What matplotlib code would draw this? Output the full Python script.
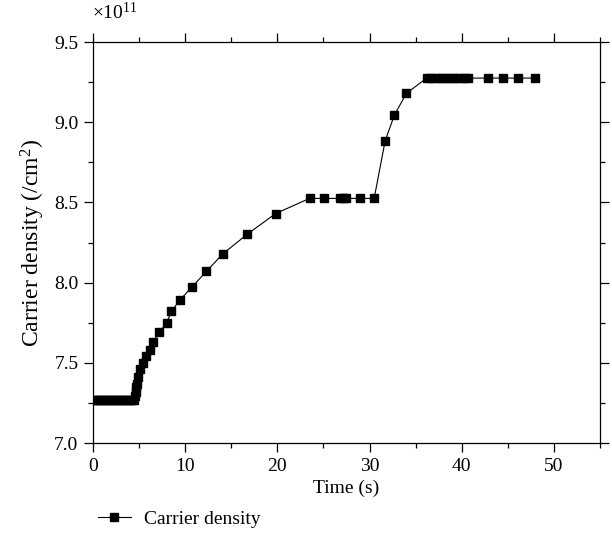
import matplotlib
matplotlib.use("Agg")
import matplotlib.pyplot as plt
from matplotlib.ticker import MultipleLocator

plt.rcParams['font.family'] = ['Liberation Serif', 'DejaVu Serif']
plt.rcParams['mathtext.fontset'] = 'custom'
plt.rcParams['mathtext.rm'] = 'Liberation Serif'
plt.rcParams['mathtext.it'] = 'Liberation Serif:italic'

time_s = [0.0, 0.25, 0.5, 0.75, 1.0, 1.25, 1.5, 1.75, 2.0, 2.25, 2.5, 2.75, 3.0,
          3.25, 3.5, 3.75, 4.0, 4.25, 4.5, 4.6, 4.65, 4.7, 4.75, 4.9, 5.1, 5.46,
          5.8, 6.2, 6.5, 7.2, 8.0, 8.5, 9.4, 10.7, 12.3, 14.1, 16.7, 19.8, 23.5,
          25.1, 26.8, 27.1, 27.4, 29.0, 30.5, 31.7, 32.7, 34.0, 36.2, 36.7, 37.2,
          37.7, 38.2, 38.7, 39.2, 39.7, 40.2, 40.7, 42.8, 44.5, 46.1, 47.9]
density = [7.27, 7.27, 7.27, 7.27, 7.27, 7.27, 7.27, 7.27, 7.27, 7.27, 7.27, 7.27,
           7.27, 7.27, 7.27, 7.27, 7.27, 7.27, 7.27, 7.29, 7.32, 7.35, 7.37, 7.41,
           7.46, 7.50, 7.54, 7.58, 7.63, 7.69, 7.75, 7.82, 7.89, 7.97, 8.07, 8.18,
           8.30, 8.43, 8.525, 8.525, 8.525, 8.525, 8.525, 8.525, 8.525, 8.885, 9.045,
           9.18, 9.275, 9.275, 9.275, 9.275, 9.275, 9.275, 9.275, 9.275, 9.275,
           9.275, 9.275, 9.275, 9.275, 9.275]
x_ticks = [0, 10, 20, 30, 40, 50]
y_ticks = [7.0, 7.5, 8.0, 8.5, 9.0, 9.5]

fig = plt.figure(figsize=(6.12, 5.57), dpi=100)
ax = fig.add_axes([93/612, 1-443/557, (600-93)/612, (443-42)/557])

ax.plot(time_s, density, color='black', linewidth=0.8, marker='s',
        markersize=6.3, markerfacecolor='black', markeredgecolor='black',
        label='Carrier density')

ax.set_xlim(0, 55)
ax.set_ylim(7.0, 9.5)
ax.set_xticks(x_ticks)
ax.set_yticks(y_ticks)
ax.set_yticklabels([f"{v:.1f}" for v in y_ticks])
ax.xaxis.set_minor_locator(MultipleLocator(5))
ax.yaxis.set_minor_locator(MultipleLocator(0.25))
ax.tick_params(which='major', direction='out', length=6.5, width=0.9,
               top=True, right=True, labelsize=14, pad=4)
ax.tick_params(which='minor', direction='out', length=3.5, width=0.9,
               top=True, right=True)
for s in ax.spines.values():
    s.set_linewidth(0.9)

ax.set_xlabel('Time (s)', fontsize=14, labelpad=4)
ax.set_ylabel('Carrier density (/cm$^2$)', fontsize=17, labelpad=5)

fig.text(92/612, 1-12/557, r'$\times$10$^{11}$', fontsize=14, ha='left', va='center')

fig.legend(loc='center left', bbox_to_anchor=(90/612, 1-519/557), frameon=False,
           fontsize=14, handlelength=1.7, handletextpad=0.7, borderaxespad=0)

fig.savefig('out.png', dpi=100)
